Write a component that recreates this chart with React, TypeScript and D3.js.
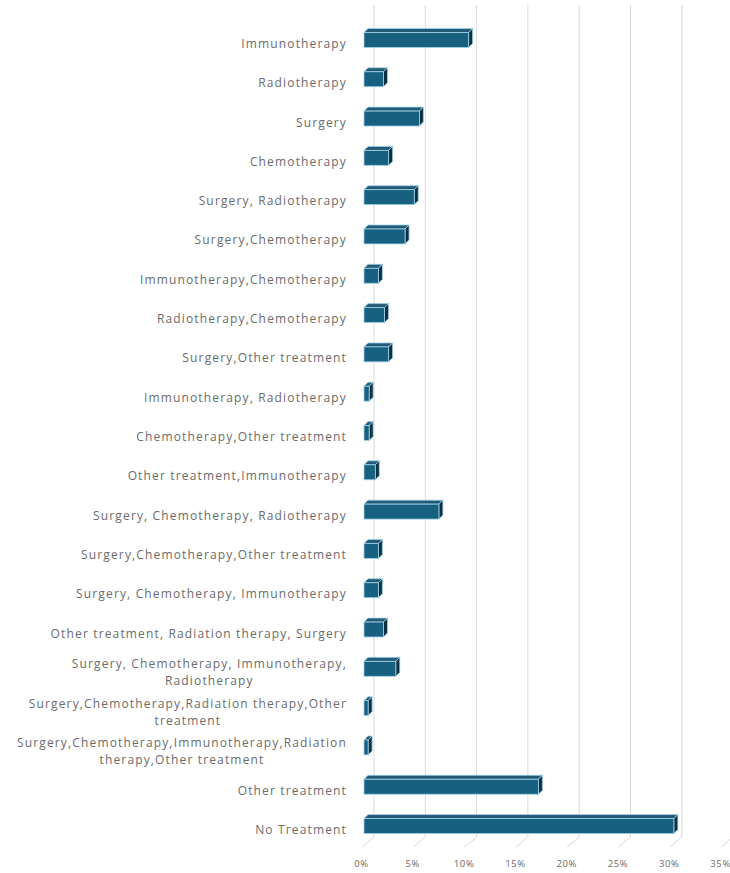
import React, { useEffect, useRef } from 'react';
import * as d3 from 'd3';

// categories, top to bottom (each entry holds the wrapped label lines)
const categories: string[][] = [
  ['Immunotherapy'],
  ['Radiotherapy'],
  ['Surgery'],
  ['Chemotherapy'],
  ['Surgery, Radiotherapy'],
  ['Surgery,Chemotherapy'],
  ['Immunotherapy,Chemotherapy'],
  ['Radiotherapy,Chemotherapy'],
  ['Surgery,Other treatment'],
  ['Immunotherapy, Radiotherapy'],
  ['Chemotherapy,Other treatment'],
  ['Other treatment,Immunotherapy'],
  ['Surgery, Chemotherapy, Radiotherapy'],
  ['Surgery,Chemotherapy,Other treatment'],
  ['Surgery, Chemotherapy, Immunotherapy'],
  ['Other treatment, Radiation therapy, Surgery'],
  ['Surgery, Chemotherapy, Immunotherapy,', 'Radiotherapy'],
  ['Surgery,Chemotherapy,Radiation therapy,Other', 'treatment'],
  ['Surgery,Chemotherapy,Immunotherapy,Radiation', 'therapy,Other treatment'],
  ['Other treatment'],
  ['No Treatment'],
];

// percent of patients
const values: number[] = [
  10.2, 1.9, 5.4, 2.4, 4.9, 4.0, 1.4, 2.0, 2.4, 0.5, 0.5, 1.1, 7.3, 1.4, 1.4, 1.9, 3.1, 0.4, 0.4, 17.0, 30.2,
];

const tickValues: number[] = [0, 5, 10, 15, 20, 25, 30, 35];

const W = 730;
const H = 873;

const App: React.FC = () => {
  const svgRef = useRef<SVGSVGElement>(null);

  useEffect(() => {
    if (!svgRef.current) return;
    const svg = d3.select(svgRef.current);
    svg.selectAll('*').remove();

    const depth = 4; // bar depth
    const wallShift = 10; // back wall offset from front plane
    const gridTop = 5;
    const gridBottom = 837;

    const keys = categories.map((c) => c.join(' '));
    const data = keys.map((k, i) => ({ key: k, lines: categories[i], value: values[i] }));

    const x = d3.scaleLinear().domain([0, 35]).range([364, 364 + 35 * 10.26]);
    const y = d3
      .scaleBand<string>()
      .domain(keys)
      .range([20.3, 845.7])
      .paddingInner(0.62)
      .paddingOuter(0.31);

    // Gridlines on the back wall
    const grid = svg.append('g');
    grid
      .selectAll('line.v')
      .data(tickValues)
      .enter()
      .append('line')
      .attr('class', 'v')
      .attr('x1', (d) => x(d) + wallShift)
      .attr('x2', (d) => x(d) + wallShift)
      .attr('y1', gridTop)
      .attr('y2', gridBottom)
      .attr('stroke', '#d9d9d9')
      .attr('stroke-width', 1);

    // Floor lines
    grid
      .selectAll('line.f')
      .data(tickValues)
      .enter()
      .append('line')
      .attr('class', 'f')
      .attr('x1', (d) => x(d) + wallShift)
      .attr('x2', (d) => x(d) + wallShift - 12)
      .attr('y1', gridBottom)
      .attr('y2', gridBottom + 10)
      .attr('stroke', '#d9d9d9')
      .attr('stroke-width', 1);

    // Bars (front, top, side faces)
    const bars = svg
      .append('g')
      .selectAll('g.bar')
      .data(data)
      .enter()
      .append('g')
      .attr('class', 'bar');

    const edge = '#9fd2ea';

    bars
      .append('polygon')
      .attr('points', (d) => {
        const y0 = y(d.key)!;
        const x0 = x(0);
        const x1 = x(d.value);
        return `${x0},${y0} ${x0 + depth},${y0 - depth} ${x1 + depth},${y0 - depth} ${x1},${y0}`;
      })
      .attr('fill', '#245a75')
      .attr('stroke', edge)
      .attr('stroke-width', 0.8)
      .attr('stroke-linejoin', 'round');

    bars
      .append('polygon')
      .attr('points', (d) => {
        const y0 = y(d.key)!;
        const h = y.bandwidth();
        const x1 = x(d.value);
        return `${x1},${y0} ${x1 + depth},${y0 - depth} ${x1 + depth},${y0 + h - depth} ${x1},${y0 + h}`;
      })
      .attr('fill', '#0c2f42')
      .attr('stroke', edge)
      .attr('stroke-width', 0.8)
      .attr('stroke-linejoin', 'round');

    bars
      .append('rect')
      .attr('x', x(0))
      .attr('y', (d) => y(d.key)!)
      .attr('width', (d) => x(d.value) - x(0))
      .attr('height', y.bandwidth())
      .attr('fill', '#17607f')
      .attr('stroke', edge)
      .attr('stroke-width', 0.8);

    // Category labels
    const labelRight = 347;
    const lineGap = 17;
    const labels = svg
      .append('g')
      .style('font-family', '"Open Sans", sans-serif')
      .style('font-size', '12px')
      .style('letter-spacing', '1.15px')
      .attr('fill', '#6b6b6b');

    data.forEach((d) => {
      const cy = y(d.key)! + y.bandwidth() / 2 + 5;
      const n = d.lines.length;
      const t = labels.append('text').attr('dominant-baseline', 'middle');
      d.lines.forEach((line, j) => {
        t.append('tspan')
          .attr('y', cy - ((n - 1) * lineGap) / 2 + j * lineGap)
          .text(line);
      });
      const widths = t
        .selectAll<SVGTSpanElement, unknown>('tspan')
        .nodes()
        .map((nd) => nd.getComputedTextLength());
      const maxW = d3.max(widths) || 0;
      t.attr('text-anchor', 'middle');
      t.selectAll('tspan').attr('x', labelRight - maxW / 2);
    });

    // Value axis labels
    const axis = svg
      .append('g')
      .attr('transform', `translate(-3,${gridBottom + 20})`)
      .call(
        d3
          .axisBottom(x)
          .tickValues(tickValues)
          .tickSize(0)
          .tickFormat((d) => `${d}%`)
      );
    axis.select('.domain').remove();
    axis
      .selectAll('text')
      .style('font-family', '"Open Sans", sans-serif')
      .style('font-size', '9.5px')
      .style('letter-spacing', '0.6px')
      .attr('fill', '#6b6b6b');
  }, []);

  return (
    <svg
      ref={svgRef}
      width={W}
      height={H}
      style={{ position: 'absolute', left: 0, top: 0, background: '#ffffff' }}
    />
  );
};

export default App;
